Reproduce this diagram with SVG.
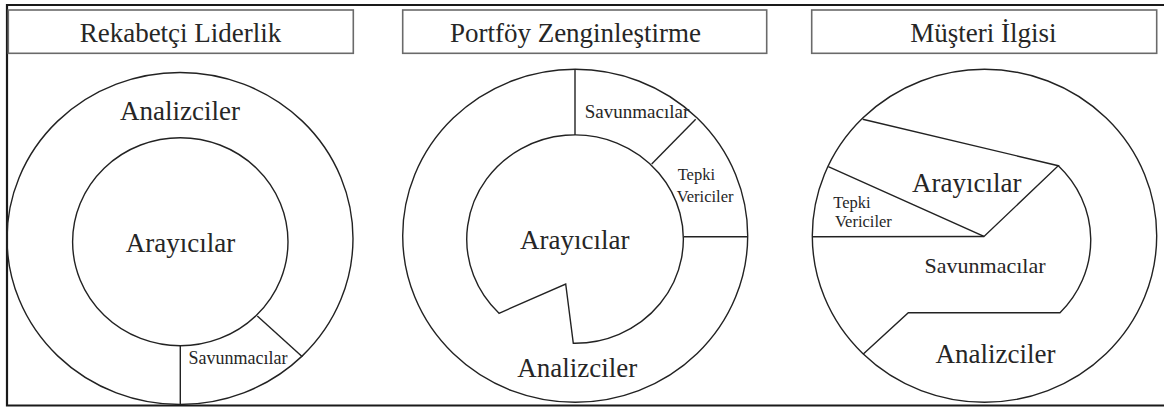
<svg xmlns="http://www.w3.org/2000/svg" width="1164" height="407" viewBox="0 0 1164 407">
  <style>
    .frame { stroke: #1a1a1a; stroke-width: 2.2; fill: none; }
    .title-box { fill: #fff; stroke: #6a6a6a; stroke-width: 1.6; }
    .ring { fill: none; stroke: #222; stroke-width: 1.4; }
    .seg { fill: none; stroke: #222; stroke-width: 1.4; }
    .lbl { font-family: 'Liberation Serif', 'DejaVu Serif', serif; fill: #262626; }
    .t-title { font-size: 27px; text-anchor: middle; }
    .t-big { font-size: 27px; text-anchor: middle; }
    .t-mid { text-anchor: middle; }
  </style>

  <rect width="1164" height="407" fill="#fff"/>

  <!-- outer frame (open on the right) -->
  <path class="frame" d="M 1164 5 L 7 5 L 7 405.5 L 1164 405.5"/>

  <!-- panel 1: Rekabetçi Liderlik -->
  <g id="panel-rekabetci" class="lbl" font-family="Liberation Serif, DejaVu Serif, serif">
    <rect class="title-box" x="8.3" y="10" width="345" height="43.3"/>
    <text class="t-title" x="180.5" y="41.7">Rekabetçi Liderlik</text>
    <ellipse class="ring" cx="180" cy="238.5" rx="173" ry="166"/>
    <ellipse class="ring" cx="180.3" cy="241.7" rx="107.7" ry="104"/>
    <text class="t-big" x="180" y="120">Analizciler</text>
    <text class="t-big" x="180.5" y="252">Arayıcılar</text>
    <text class="t-mid" x="238" y="364" font-size="18">Savunmacılar</text>
  </g>

  <!-- panel 2: Portföy Zenginleştirme -->
  <g id="panel-portfoy" class="lbl" font-family="Liberation Serif, DejaVu Serif, serif">
    <rect class="title-box" x="402.7" y="10" width="364" height="43.3"/>
    <text class="t-title" x="575.5" y="41.7">Portföy Zenginleştirme</text>
    <ellipse class="ring" cx="575.2" cy="235.8" rx="172.5" ry="166.5"/>
    <!-- inner region with the notch cut out at lower left -->
    <path class="ring" d="M 499 313.3 L 565.7 284 L 573.3 343.3 A 108.3 104.2 0 1 0 499 313.3 Z"/>
    <text class="t-mid" x="637" y="118.3" font-size="19">Savunmacılar</text>
    <text x="677.7" y="180" font-size="16.5">Tepki</text>
    <text x="676.7" y="201.7" font-size="16.5">Vericiler</text>
    <text class="t-big" x="574.7" y="249.3">Arayıcılar</text>
    <text class="t-big" x="577.3" y="376.7">Analizciler</text>
  </g>

  <!-- panel 3: Müşteri İlgisi -->
  <g id="panel-musteri" class="lbl" font-family="Liberation Serif, DejaVu Serif, serif">
    <rect class="title-box" x="811.7" y="10" width="345" height="43.3"/>
    <text class="t-title" x="983.3" y="41.7">Müşteri İlgisi</text>
    <ellipse class="ring" cx="984.5" cy="235.8" rx="172.2" ry="166.5"/>
    <text class="t-big" x="966.7" y="191.7">Arayıcılar</text>
    <text x="833.3" y="207.5" font-size="16.5">Tepki</text>
    <text x="835" y="227.3" font-size="16.5">Vericiler</text>
    <text class="t-mid" x="985" y="273.3" font-size="22">Savunmacılar</text>
    <text class="t-big" x="995.5" y="362.7">Analizciler</text>
  </g>

  <!-- dividing lines between segments -->
  <g id="connectors">
    <line class="seg" x1="180.3" y1="345.7" x2="180.3" y2="405"/>
    <line class="seg" x1="257.3" y1="316" x2="302.3" y2="356.7"/>

    <line class="seg" x1="575" y1="69.3" x2="575" y2="135"/>
    <line class="seg" x1="695.7" y1="119.3" x2="651.7" y2="164"/>
    <line class="seg" x1="684" y1="236.7" x2="747.7" y2="236.7"/>

    <polyline class="seg" points="862.7,119.3 1058.3,165.7 984,236.5 828.3,166.7"/>
    <line class="seg" x1="812.3" y1="236.7" x2="984" y2="236.5"/>
    <path class="seg" d="M 1058.3 165.7 A 108 104 0 0 1 1060 312.7 L 908.3 312.7 L 863.3 354"/>
  </g>
</svg>
